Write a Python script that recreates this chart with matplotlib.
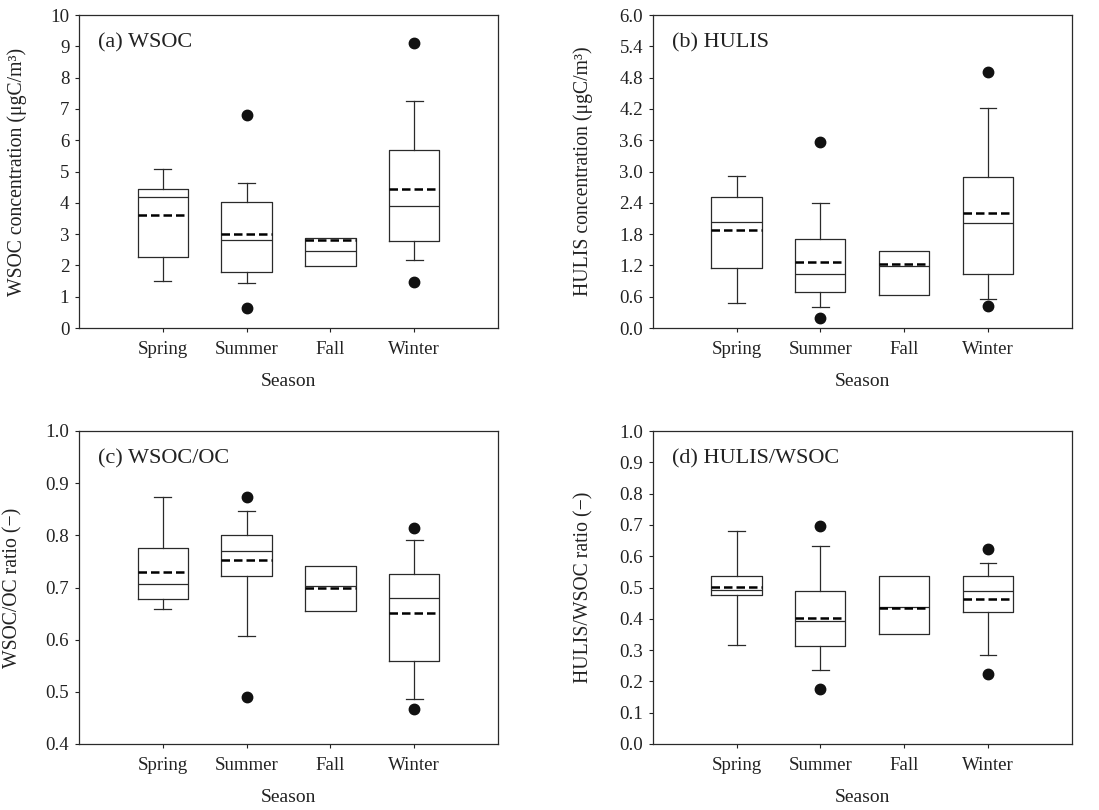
import matplotlib
matplotlib.use("Agg")
import matplotlib.pyplot as plt

plt.rcParams['font.family'] = ['Liberation Serif', 'DejaVu Serif']
plt.rcParams['font.size'] = 13.6

seasons = ["Spring", "Summer", "Fall", "Winter"]

# (a) WSOC concentration
wsoc_lo = [1.49, 1.43, None, 2.16]
wsoc_q1 = [2.27, 1.78, 1.97, 2.78]
wsoc_med = [4.20, 2.80, 2.47, 3.91]
wsoc_mean = [3.62, 2.99, 2.82, 4.45]
wsoc_q3 = [4.45, 4.03, 2.89, 5.69]
wsoc_hi = [5.09, 4.64, None, 7.24]
wsoc_out = [[], [6.82, 0.63], [], [9.12, 1.48]]

# (b) HULIS concentration
hulis_lo = [0.47, 0.40, None, 0.55]
hulis_q1 = [1.15, 0.69, 0.64, 1.04]
hulis_med = [2.03, 1.03, 1.18, 2.01]
hulis_mean = [1.88, 1.27, 1.23, 2.21]
hulis_q3 = [2.51, 1.71, 1.47, 2.90]
hulis_hi = [2.92, 2.39, None, 4.22]
hulis_out = [[], [3.57, 0.20], [], [4.90, 0.43]]

# (c) WSOC/OC ratio
woc_lo = [0.658, 0.607, None, 0.486]
woc_q1 = [0.677, 0.723, 0.654, 0.559]
woc_med = [0.707, 0.770, 0.702, 0.679]
woc_mean = [0.729, 0.752, 0.699, 0.651]
woc_q3 = [0.775, 0.801, 0.742, 0.726]
woc_hi = [0.873, 0.846, None, 0.792]
woc_out = [[], [0.873, 0.490], [], [0.814, 0.467]]

# (d) HULIS/WSOC ratio
hw_lo = [0.315, 0.235, None, 0.283]
hw_q1 = [0.477, 0.314, 0.350, 0.422]
hw_med = [0.491, 0.394, 0.438, 0.488]
hw_mean = [0.501, 0.402, 0.434, 0.464]
hw_q3 = [0.536, 0.488, 0.536, 0.538]
hw_hi = [0.680, 0.633, None, 0.578]
hw_out = [[], [0.697, 0.175], [], [0.623, 0.223]]

LINE = '#2a2a2a'


def make_stats(lo, q1, med, mean, q3, hi, out):
    stats = []
    for i in range(len(q1)):
        stats.append(dict(
            label=seasons[i],
            whislo=q1[i] if lo[i] is None else lo[i],
            q1=q1[i], med=med[i], mean=mean[i], q3=q3[i],
            whishi=q3[i] if hi[i] is None else hi[i],
            fliers=out[i],
        ))
    caps = [0 if lo[i] is None else 0.2 for i in range(len(q1))]
    return stats, caps


def draw_panel(ax, stats, caps, ylim, yticks, fmt, ylabel, tag, ylab_x):
    ax.bxp(stats, positions=[1, 2, 3, 4], widths=0.6, capwidths=caps,
           showmeans=True, meanline=True,
           boxprops=dict(color=LINE, linewidth=0.9),
           whiskerprops=dict(color=LINE, linewidth=0.9),
           capprops=dict(color=LINE, linewidth=0.9),
           medianprops=dict(color=LINE, linewidth=0.9),
           meanprops=dict(color='black', linewidth=1.8, linestyle=(0, (3.4, 1.6))),
           flierprops=dict(marker='o', markerfacecolor='#111111',
                           markeredgecolor='#111111', markersize=7.5))
    ax.set_xlim(0, 5)
    ax.set_ylim(*ylim)
    ax.set_yticks(yticks)
    ax.set_yticklabels([fmt.format(v) for v in yticks])
    ax.set_xticks([1, 2, 3, 4])
    ax.set_xticklabels(seasons)
    ax.tick_params(direction='out', length=3, width=0.8, pad=4, colors='#222222')
    ax.tick_params(axis='x', pad=6)
    for s in ax.spines.values():
        s.set_color(LINE)
        s.set_linewidth(0.9)
    ax.set_xlabel("Season", labelpad=11, color='#222222', fontsize=14)
    ax.set_ylabel(ylabel, color='#222222', fontsize=14.2)
    ax.yaxis.set_label_coords(ylab_x, 0.5)
    ax.text(0.045, 0.91, tag, transform=ax.transAxes, fontsize=16,
            va='center', ha='left', color='#222222')


fig = plt.figure(figsize=(10.99, 8.10), dpi=100)
W = 419 / 1099
H = 313 / 810
ax_a = fig.add_axes([79 / 1099, 1 - 328 / 810, W, H])
ax_b = fig.add_axes([652.7 / 1099, 1 - 328 / 810, W, H])
ax_c = fig.add_axes([79 / 1099, 1 - 744 / 810, W, H])
ax_d = fig.add_axes([652.7 / 1099, 1 - 744 / 810, W, H])

st, cp = make_stats(wsoc_lo, wsoc_q1, wsoc_med, wsoc_mean, wsoc_q3, wsoc_hi, wsoc_out)
draw_panel(ax_a, st, cp, (0, 10), list(range(0, 11)), "{:d}",
           "WSOC concentration (μgC/m³)", "(a) WSOC", -0.124)

st, cp = make_stats(hulis_lo, hulis_q1, hulis_med, hulis_mean, hulis_q3, hulis_hi, hulis_out)
draw_panel(ax_b, st, cp, (0, 6), [i * 0.6 for i in range(11)], "{:.1f}",
           "HULIS concentration (μgC/m³)", "(b) HULIS", -0.142)

st, cp = make_stats(woc_lo, woc_q1, woc_med, woc_mean, woc_q3, woc_hi, woc_out)
draw_panel(ax_c, st, cp, (0.4, 1.0), [0.4 + i * 0.1 for i in range(7)], "{:.1f}",
           "WSOC/OC ratio (\u2212)", "(c) WSOC/OC", -0.134)

st, cp = make_stats(hw_lo, hw_q1, hw_med, hw_mean, hw_q3, hw_hi, hw_out)
draw_panel(ax_d, st, cp, (0, 1.0), [i * 0.1 for i in range(11)], "{:.1f}",
           "HULIS/WSOC ratio (\u2212)", "(d) HULIS/WSOC", -0.142)

fig.savefig("out.png", dpi=100)
